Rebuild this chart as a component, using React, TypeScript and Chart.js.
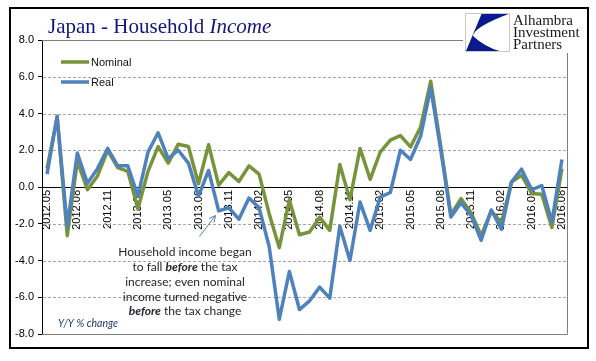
import React, { useEffect, useRef } from 'react';
import { Chart, registerables } from 'chart.js';

Chart.register(...registerables);

const months = [
  '2012.05', '2012.06', '2012.07', '2012.08', '2012.09', '2012.10', '2012.11', '2012.12',
  '2013.01', '2013.02', '2013.03', '2013.04', '2013.05', '2013.06', '2013.07', '2013.08',
  '2013.09', '2013.10', '2013.11', '2013.12', '2014.01', '2014.02', '2014.03', '2014.04',
  '2014.05', '2014.06', '2014.07', '2014.08', '2014.09', '2014.10', '2014.11', '2014.12',
  '2015.01', '2015.02', '2015.03', '2015.04', '2015.05', '2015.06', '2015.07', '2015.08',
  '2015.09', '2015.10', '2015.11', '2015.12', '2016.01', '2016.02', '2016.03', '2016.04',
  '2016.05', '2016.06', '2016.07', '2016.08',
];

const tickMonths = [
  '2012.05', '2012.08', '2012.11', '2013.02', '2013.05', '2013.08', '2013.11', '2014.02',
  '2014.05', '2014.08', '2014.11', '2015.02', '2015.05', '2015.08', '2015.11', '2016.02',
  '2016.05', '2016.08',
];

const nominal = [
  1.0, 3.8, -2.65, 1.4, -0.15, 0.6, 2.0, 1.05,
  0.85, -1.2, 0.85, 2.2, 1.3, 2.33, 2.2, 0.18,
  2.3, 0.1, 0.78, 0.3, 1.15, 0.7, -1.45, -3.3,
  -0.7, -2.6, -2.45, -1.64, -2.36, 1.22, -0.7, 2.1,
  0.42, 1.9, 2.55, 2.8, 2.18, 3.27, 5.76, 2.2,
  -1.5, -0.63, -1.4, -2.65, -1.3, -1.95, 0.27, 0.64,
  -0.35, -0.4, -2.2, 1.0,
];

const real = [
  0.7, 3.85, -2.15, 1.85, 0.2, 1.0, 2.1, 1.15,
  1.15, -0.5, 1.9, 2.95, 1.55, 2.0, 1.3, -0.5,
  0.9, -1.3, -1.13, -1.75, -0.6, -1.13, -3.24, -7.2,
  -4.6, -6.67, -6.2, -5.45, -6.05, -2.13, -4.0, -0.82,
  -2.36, -0.55, -0.3, 2.0, 1.5, 2.76, 5.4, 2.0,
  -1.63, -0.85, -1.55, -2.9, -1.25, -2.3, 0.27, 0.97,
  -0.15, 0.08, -1.9, 1.5,
];

const yMin = -8;
const yMax = 8;
const yStep = 2;

const seriesNames = ['Nominal', 'Real'];
const GREEN = '#77933C';
const BLUE = '#4F81BD';

const annotationLines: Array<Array<[string, boolean]>> = [
  [['Household income began', false]],
  [['to fall ', false], ['before', true], [' the tax', false]],
  [['increase; even nominal', false]],
  [['income turned negative', false]],
  [['before', true], [' the tax change', false]],
];

const decor = {
  id: 'decor',
  beforeDatasetsDraw(chart: any) {
    const { ctx, chartArea } = chart;
    const y = chart.scales.y;
    const { left, right, top, bottom } = chartArea;
    ctx.save();
    ctx.strokeStyle = '#a6a6a6';
    ctx.lineWidth = 1;
    ctx.setLineDash([3, 2]);
    for (let v = yMin + yStep; v < yMax; v += yStep) {
      if (v === 0) continue;
      const py = Math.round(y.getPixelForValue(v)) + 0.5;
      ctx.beginPath();
      ctx.moveTo(left + 1, py);
      ctx.lineTo(right, py);
      ctx.stroke();
    }
    ctx.setLineDash([]);
    ctx.strokeStyle = '#7f7f7f';
    const ty = Math.round(top) + 0.5;
    const by = Math.round(bottom) + 0.5;
    const rx = Math.round(right) + 0.5;
    ctx.beginPath();
    ctx.moveTo(left, ty);
    ctx.lineTo(463, ty);
    ctx.moveTo(left, by);
    ctx.lineTo(rx, by);
    ctx.moveTo(rx, 53);
    ctx.lineTo(rx, by);
    ctx.stroke();
    const zy = Math.round(y.getPixelForValue(0)) + 0.5;
    ctx.strokeStyle = '#000';
    ctx.beginPath();
    ctx.moveTo(left, zy);
    ctx.lineTo(rx, zy);
    ctx.stroke();
    ctx.restore();
  },
  afterDraw(chart: any) {
    const { ctx } = chart;
    ctx.save();
    // title
    ctx.fillStyle = '#14147a';
    ctx.textBaseline = 'alphabetic';
    ctx.textAlign = 'left';
    ctx.font = '21px "Liberation Serif"';
    const t1 = 'Japan - Household ';
    ctx.fillText(t1, 48, 33);
    const w1 = ctx.measureText(t1).width;
    ctx.font = 'italic 21px "Liberation Serif"';
    ctx.fillText('Income', 48 + w1, 33);

    // legend
    const legendColors = [GREEN, BLUE];
    const legendY = [62, 82];
    ctx.font = '11px "Liberation Sans"';
    ctx.textBaseline = 'middle';
    seriesNames.forEach((name, i) => {
      ctx.strokeStyle = legendColors[i];
      ctx.lineWidth = 3.5;
      ctx.beginPath();
      ctx.moveTo(61, legendY[i]);
      ctx.lineTo(89, legendY[i]);
      ctx.stroke();
      ctx.fillStyle = '#111';
      ctx.fillText(name, 91, legendY[i] + 0.5);
    });

    // annotation
    const cx = 185;
    const lineYs = [252, 267, 282, 297, 311];
    ctx.fillStyle = '#2a2230';
    ctx.textBaseline = 'middle';
    annotationLines.forEach((segs, li) => {
      let total = 0;
      const widths = segs.map(([s, b]) => {
        ctx.font = (b ? 'italic bold ' : '') + '12px Lato';
        const w = ctx.measureText(s).width;
        total += w;
        return w;
      });
      let x = cx - total / 2;
      segs.forEach(([s, b], si) => {
        ctx.font = (b ? 'italic bold ' : '') + '12px Lato';
        ctx.fillText(s, x, lineYs[li]);
        x += widths[si];
      });
    });

    // arrow
    ctx.strokeStyle = BLUE;
    ctx.lineWidth = 1;
    const ax0 = 199.5, ay0 = 236.5, ax1 = 215.5, ay1 = 215.5;
    ctx.beginPath();
    ctx.moveTo(ax0, ay0);
    ctx.lineTo(ax1, ay1);
    const ang = Math.atan2(ay1 - ay0, ax1 - ax0);
    const hl = 7;
    ctx.moveTo(ax1, ay1);
    ctx.lineTo(ax1 - hl * Math.cos(ang - 0.45), ay1 - hl * Math.sin(ang - 0.45));
    ctx.moveTo(ax1, ay1);
    ctx.lineTo(ax1 - hl * Math.cos(ang + 0.45), ay1 - hl * Math.sin(ang + 0.45));
    ctx.stroke();

    // Y/Y % change
    ctx.fillStyle = '#1f3a6e';
    ctx.font = 'italic 10.5px Lato';
    ctx.textAlign = 'left';
    ctx.fillText('Y/Y % change', 58, 324);

    // logo
    ctx.fillStyle = '#fff';
    ctx.fillRect(465.5, 13.5, 44, 38);
    ctx.strokeStyle = '#c8c8c8';
    ctx.lineWidth = 1;
    ctx.strokeRect(465.5, 13.5, 44, 38);
    ctx.fillStyle = '#0a1a8c';
    ctx.beginPath();
    ctx.moveTo(481.5, 14);
    ctx.lineTo(508.5, 14);
    ctx.quadraticCurveTo(474, 27, 473, 36);
    ctx.quadraticCurveTo(485, 47, 499.5, 51);
    ctx.lineTo(466, 51);
    ctx.closePath();
    ctx.fill();
    ctx.fillStyle = '#1a1a1a';
    ctx.font = '15px "Liberation Serif"';
    ctx.textBaseline = 'alphabetic';
    ctx.fillText('Alhambra', 513, 25);
    ctx.fillText('Investment', 513, 37);
    ctx.fillText('Partners', 513, 49);

    // outer frame
    ctx.strokeStyle = '#000';
    ctx.lineWidth = 2;
    ctx.strokeRect(10, 8, 578, 340);
    ctx.restore();
  },
};

export default function App() {
  const ref = useRef<HTMLCanvasElement>(null);
  useEffect(() => {
    if (!ref.current) return;
    const chart = new Chart(ref.current, {
      type: 'line',
      data: {
        labels: months,
        datasets: [
          {
            label: seriesNames[1],
            data: real,
            borderColor: BLUE,
            backgroundColor: BLUE,
            borderWidth: 3.5,
            pointRadius: 0,
            tension: 0,
            borderJoinStyle: 'round',
          },
          {
            label: seriesNames[0],
            data: nominal,
            borderColor: GREEN,
            backgroundColor: GREEN,
            borderWidth: 3.5,
            pointRadius: 0,
            tension: 0,
            borderJoinStyle: 'round',
          },
        ],
      },
      options: {
        responsive: false,
        animation: false,
        layout: { padding: { left: 0, top: 40, right: 29, bottom: 27 } },
        plugins: {
          legend: { display: false },
          tooltip: { enabled: false },
          title: { display: false },
        },
        scales: {
          x: {
            type: 'category',
            offset: true,
            position: { y: 0 } as any,
            grid: { display: false, drawTicks: false },
            border: { display: false },
            ticks: {
              autoSkip: false,
              maxRotation: 90,
              minRotation: 90,
              padding: 3,
              color: '#000',
              font: { family: '"Liberation Sans"', size: 11 },
              callback: function (this: any, _v: any, i: number) {
                const lab = months[i];
                return tickMonths.includes(lab) ? lab : '';
              },
            },
          },
          y: {
            min: yMin,
            max: yMax,
            afterFit: (scale: any) => {
              scale.width = 42;
            },
            grid: {
              display: true,
              drawOnChartArea: false,
              drawTicks: true,
              tickLength: 4,
              tickColor: '#000',
            },
            border: { display: true, color: '#000', width: 1 },
            ticks: {
              stepSize: yStep,
              padding: 4,
              color: '#000',
              font: { family: '"Liberation Sans"', size: 11 },
              callback: (v: any) => Number(v).toFixed(1),
            },
          },
        },
      },
      plugins: [decor],
    });
    return () => chart.destroy();
  }, []);
  return (
    <div style={{ position: 'fixed', left: 0, top: 0, width: 596, height: 361, background: '#fff' }}>
      <canvas ref={ref} width={596} height={361} style={{ display: 'block' }} />
    </div>
  );
}
